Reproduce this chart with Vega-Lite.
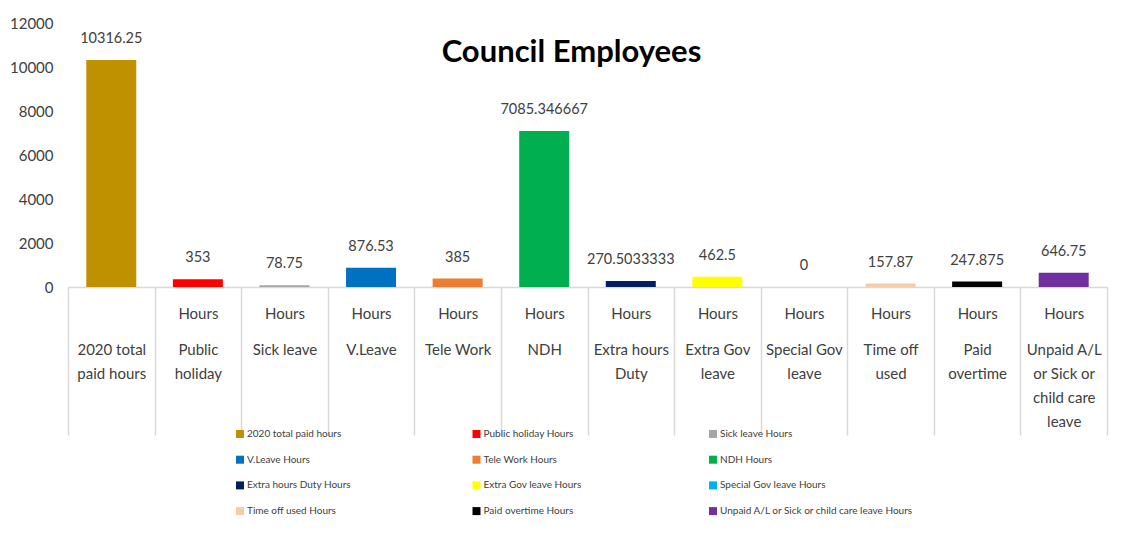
{
  "$schema": "https://vega.github.io/schema/vega-lite/v6.json",
  "width": 1039,
  "height": 264,
  "autosize": {"type": "none"},
  "padding": {"left": 68, "top": 23, "right": 22, "bottom": 254},
  "background": "white",
  "title": {
    "text": "Council Employees",
    "font": "Lato",
    "fontSize": 31,
    "fontWeight": "bold",
    "color": "#000000",
    "anchor": "middle",
    "baseline": "alphabetic",
    "offset": -77,
    "dx": -16
  },
  "config": {"view": {"stroke": null}, "font": "Lato"},
  "data": {
    "values": [
      {"cat": "2020 total|paid hours", "series": "2020 total paid hours", "value": 10316.25},
      {"cat": "Public|holiday", "series": "Public holiday Hours", "value": 353},
      {"cat": "Sick leave", "series": "Sick leave Hours", "value": 78.75},
      {"cat": "V.Leave", "series": "V.Leave Hours", "value": 876.53},
      {"cat": "Tele Work", "series": "Tele Work Hours", "value": 385},
      {"cat": "NDH", "series": "NDH Hours", "value": 7085.346667},
      {"cat": "Extra hours|Duty", "series": "Extra hours Duty Hours", "value": 270.5033333},
      {"cat": "Extra Gov|leave", "series": "Extra Gov leave Hours", "value": 462.5},
      {"cat": "Special Gov|leave", "series": "Special Gov leave Hours", "value": 0},
      {"cat": "Time off|used", "series": "Time off used Hours", "value": 157.87},
      {"cat": "Paid|overtime", "series": "Paid overtime Hours", "value": 247.875},
      {"cat": "Unpaid A/L|or Sick or|child care|leave", "series": "Unpaid A/L or Sick or child care leave Hours", "value": 646.75}
    ]
  },
  "layer": [
    {
      "mark": {"type": "bar", "width": 50},
      "encoding": {
        "x": {
          "field": "cat", "type": "nominal", "sort": null,
          "scale": {"paddingInner": 0, "paddingOuter": 0},
          "axis": {
            "title": null, "orient": "bottom",
            "domainColor": "#D9D9D9", "domainWidth": 1.5,
            "tickColor": "#D9D9D9", "tickWidth": 1.5, "tickSize": 148, "tickBand": "extent",
            "labelExpr": "!isString(datum.value) ? '' : split((indexof(datum.value, '2020') == 0 ? '\u200b|\u200b|\u200b|' : 'Hours|\u200b|\u200b|') + replace(datum.value, regexp('\\\\|', 'g'), '|\u200b|'), '|')",
            "labelAngle": 0, "labelOverlap": false, "labelFont": "Lato",
            "labelFontSize": 15, "labelColor": "#404040", "labelPadding": -129, "labelBaseline": "top",
            "labelLineHeight": 12.1, "labelLimit": 0
          }
        },
        "y": {
          "field": "value", "type": "quantitative",
          "scale": {"domain": [0, 12000], "nice": false},
          "axis": {
            "title": null, "values": [0, 2000, 4000, 6000, 8000, 10000, 12000],
            "format": "d", "domain": false, "ticks": false, "grid": false,
            "labelFont": "Lato", "labelFontSize": 15, "labelColor": "#404040", "labelPadding": 15
          }
        },
        "color": {
          "field": "series", "type": "nominal", "sort": null,
          "scale": {
            "domain": ["2020 total paid hours", "Public holiday Hours", "Sick leave Hours", "V.Leave Hours", "Tele Work Hours", "NDH Hours", "Extra hours Duty Hours", "Extra Gov leave Hours", "Special Gov leave Hours", "Time off used Hours", "Paid overtime Hours", "Unpaid A/L or Sick or child care leave Hours"],
            "range": ["#BF9000", "#FF0000", "#A5A5A5", "#0070C0", "#ED7D31", "#00B050", "#002060", "#FFFF00", "#00B0F0", "#F8CBAD", "#000000", "#7030A0"]
          },
          "legend": {
            "title": null, "orient": "none", "legendX": 167, "legendY": 406,
            "direction": "horizontal", "columns": 3, "gridAlign": "all",
            "columnPadding": 30.5, "rowPadding": 15.7,
            "symbolType": "square", "symbolSize": 64,
            "labelFont": "Lato", "labelFontSize": 10, "labelColor": "#404040",
            "labelOffset": 2, "labelLimit": 400
          }
        }
      }
    },
    {
      "mark": {"type": "text", "baseline": "middle", "dy": -21, "fontSize": 14.5, "color": "#404040", "font": "Lato"},
      "encoding": {
        "x": {"field": "cat", "type": "nominal", "sort": null},
        "y": {"field": "value", "type": "quantitative"},
        "text": {"field": "value", "type": "nominal"}
      }
    }
  ]
}
